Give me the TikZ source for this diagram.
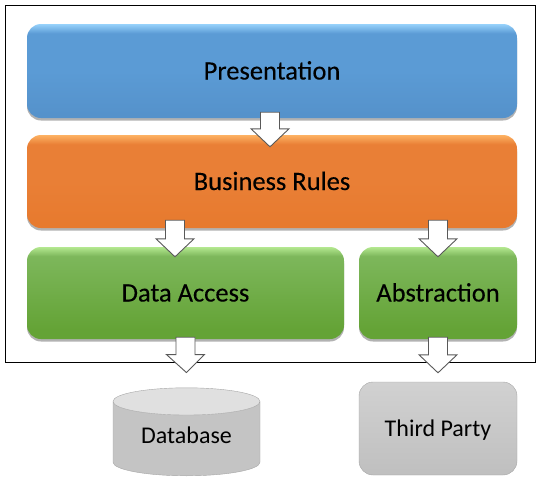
\documentclass[tikz,border=0pt]{standalone}
\usepackage{fontspec}
\setmainfont{Carlito}
\usetikzlibrary{calc,shapes.geometric,shadows}

\definecolor{bluetop}{HTML}{97D2FB}
\definecolor{bluemid}{HTML}{5B9BD5}
\definecolor{bluelow}{HTML}{5592CB}
\definecolor{orangetop}{HTML}{FDB263}
\definecolor{orangemid}{HTML}{E97F36}
\definecolor{orangelow}{HTML}{E77A2E}
\definecolor{greentop}{HTML}{B4E890}
\definecolor{greenmid}{HTML}{7DB75B}
\definecolor{greenlow}{HTML}{64A336}
\pgfdeclareverticalshading{blueshade}{100bp}{color(0bp)=(bluelow); color(25bp)=(bluelow); color(27bp)=(bluelow); color(50bp)=(bluemid); color(70bp)=(bluemid); color(75bp)=(bluetop); color(100bp)=(bluetop)}
\pgfdeclareverticalshading{orangeshade}{100bp}{color(0bp)=(orangelow); color(25bp)=(orangelow); color(27bp)=(orangelow); color(50bp)=(orangemid); color(70bp)=(orangemid); color(75bp)=(orangetop); color(100bp)=(orangetop)}
\pgfdeclareverticalshading{greenshade}{100bp}{color(0bp)=(greenlow); color(25bp)=(greenlow); color(30bp)=(greenlow); color(70bp)=(greenmid); color(75bp)=(greentop); color(100bp)=(greentop)}

\tikzset{
    layerbox/.style={rounded corners=14pt, text=black, font=\fontsize{26.5}{30}\addfontfeature{FakeBold=0.25}\selectfont,
        inner sep=0pt, text height=22pt, text depth=5pt,
        drop shadow={shadow xshift=0pt, shadow yshift=-2.5pt, opacity=0.3, fill=black}},
    greybox/.style={draw=black!35, top color=black!18, bottom color=black!25, font=\fontsize{24}{28}\selectfont},
    blockarrow/.style={draw=black!65, fill=white, line width=0.9pt, to path={
        let \p1=(\tikztostart), \p2=(\tikztotarget) in
        (\x1-9.5pt,\y1) -- (\x1+9.5pt,\y1) -- (\x1+9.5pt,\y2+18pt) -- (\x1+19pt,\y2+18pt)
        -- (\x2,\y2) -- (\x1-19pt,\y2+18pt) -- (\x1-9.5pt,\y2+18pt) -- cycle}},
}

\begin{document}
\begin{tikzpicture}[x=1pt,y=-1pt]
    \useasboundingbox (0,0) rectangle (541,485);
    \draw[black, line width=1pt] (5.5,5.5) rectangle (535.5,362.5);

    \node[layerbox, shading=blueshade, minimum width=490pt, minimum height=94pt] (present) at (272,71) {Presentation};
    \node[layerbox, shading=orangeshade, minimum width=490pt, minimum height=93pt] (rules) at (272,181.5) {Business Rules};
    \node[layerbox, shading=greenshade, minimum width=317pt, minimum height=92pt] (access) at (185.5,293) {Data Access};
    \node[layerbox, shading=greenshade, minimum width=158pt, minimum height=92pt] (abstract) at (438,293) {Abstraction};

    \node[cylinder, shape border rotate=90, aspect=0.3, draw=black!35, cylinder uses custom fill,
        cylinder body fill=black!23, cylinder end fill=black!12, inner sep=0pt, text height=14pt, text depth=5pt,
        minimum width=147pt, minimum height=88pt, font=\fontsize{24}{28}\selectfont] (database) at (186.5,438.7) {Database};
    \node[greybox, rounded corners=14pt, inner sep=0pt, text height=21pt, text depth=5pt,
        minimum width=158pt, minimum height=93pt] (third) at (438,428.5) {Third Party};

    % arrows go over the boxes and the frame
    \draw[blockarrow] ([xshift=-2pt,yshift=6pt]present.south) to ([xshift=-2pt,yshift=-12pt]rules.north);
    \draw[blockarrow] ([xshift=-10.5pt,yshift=8pt]access.north |- rules.south) to ([xshift=-10.5pt,yshift=-10pt]access.north);
    \draw[blockarrow] ([yshift=8pt]abstract.north |- rules.south) to ([yshift=-10pt]abstract.north);
    \draw[blockarrow] ([yshift=2pt]access.south) to ([yshift=15pt]database.north);
    \draw[blockarrow] ([yshift=2pt]abstract.south) to ([yshift=9pt]third.north);
\end{tikzpicture}
\end{document}
